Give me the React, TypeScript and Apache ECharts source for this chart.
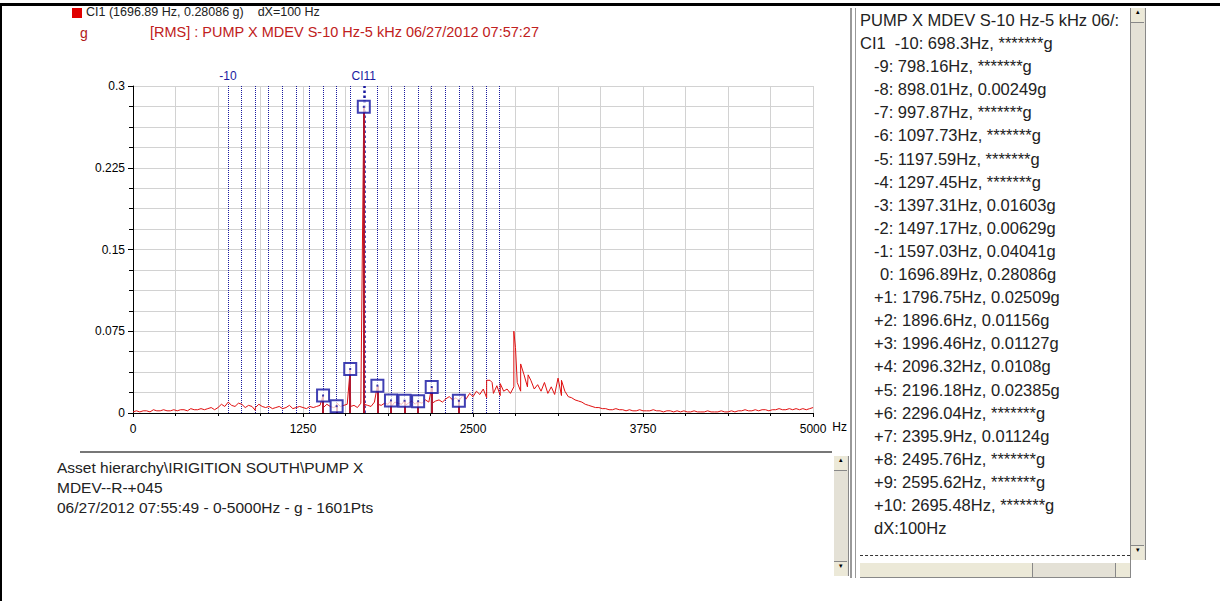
import { useRef, useEffect } from "react"
import * as echarts from "echarts"

// spectrum floor, 0..5000 Hz every 25 Hz, in mg
const floorMg = [
  1, 2, 1, 2, 2, 1, 3, 2, 2, 3, 2, 2, 3, 2, 3, 3, 2, 4, 3, 3, 4, 3, 4, 5, 3,
  5, 8, 6, 10, 7, 6, 9, 8, 5, 7, 6, 5, 8, 6, 5, 6, 4, 5, 6, 4, 5, 7, 4, 5, 6, 5, 4, 6,
  5, 6, 7, 5, 8, 6, 5, 9, 6, 7, 8, 6, 7, 5, 9, 8, 7, 6, 10, 8, 7, 9, 8, 6, 10, 9, 8, 7, 9, 11, 8, 10, 9, 12, 10, 9, 11, 12, 10, 13,
  15, 12, 14, 11, 16, 13, 18, 15, 20, 17, 22, 14, 30, 18, 25, 16, 20, 22, 18, 24, 28, 20, 35, 24, 30, 22, 26, 20, 28, 18, 24, 17, 32, 16, 20, 15, 14, 12, 11, 10,
  8, 7, 6, 5, 5, 4, 4, 3, 3, 4, 3, 3, 2, 3, 2, 2, 3, 2, 2, 2, 3, 2, 2, 1, 2, 2, 1, 2,
  1, 2, 1, 1, 2, 1, 1, 1, 2, 1, 1, 1, 2, 1, 1, 2, 1, 2, 2, 3, 2, 2, 3, 2, 3, 3, 2, 3, 3, 4, 3, 3, 4, 3, 4, 3, 4, 3, 4, 5,
]
const floorStep = 25

// isolated spectral peaks [Hz, g]
const peaks: [number, number][] = [
  [2530, 0.02], [2600, 0.03], [2640, 0.028], [2700, 0.027], [2800, 0.075],
  [2812, 0.06], [2850, 0.045], [2905, 0.035], [3150, 0.03],
]

// harmonic cursor: label, frequency, value (null = *******)
const harmLabels = ["-10", "-9", "-8", "-7", "-6", "-5", "-4", "-3", "-2", "-1", "0",
  "+1", "+2", "+3", "+4", "+5", "+6", "+7", "+8", "+9", "+10"]
const harmFreqs = [698.3, 798.16, 898.01, 997.87, 1097.73, 1197.59, 1297.45, 1397.31,
  1497.17, 1597.03, 1696.89, 1796.75, 1896.6, 1996.46, 2096.32, 2196.18, 2296.04,
  2395.9, 2495.76, 2595.62, 2695.48]
const harmValues: (number | null)[] = [null, null, 0.00249, null, null, null, null,
  0.01603, 0.00629, 0.04041, 0.28086, 0.02509, 0.01156, 0.01127, 0.0108, 0.02385,
  null, 0.01124, null, null, null]

const yTicks = [0, 0.075, 0.15, 0.225, 0.3]
const xTicks = [0, 1250, 2500, 3750, 5000]

const F = "'Liberation Sans', Arial, sans-serif"

function Chart() {
  const ref = useRef<HTMLDivElement>(null)
  useEffect(() => {
    if (!ref.current) return
    const chart = echarts.init(ref.current, null, { renderer: "svg" })

    const pts: [number, number][] = floorMg.map((v, i) => [i * floorStep, v / 1000])
    peaks.forEach((p) => pts.push(p))
    harmFreqs.forEach((f, i) => {
      const v = harmValues[i]
      if (v != null) pts.push([f, v])
    })
    pts.sort((a, b) => a[0] - b[0])

    const cursorLines = harmFreqs.map((f, i) => ({
      xAxis: f,
      lineStyle: {
        color: "#1a1aa0",
        type: "dotted" as const,
        width: i === 10 ? 2.5 : 1,
      },
      label: {
        show: i === 0 || i === 10,
        formatter: i === 0 ? "-10" : "CI11",
        position: "end" as const,
        color: "#1a1aa0",
        fontSize: 12,
        fontFamily: F,
        distance: 4,
      },
    }))

    // the analyser only boxes the harmonics from -3 to +7
    const marks = harmFreqs
      .map((f, i) => [f, harmValues[i], i])
      .filter((d) => d[1] != null && (d[2] as number) >= 7)
      .map((d) => [d[0], d[1]])

    const hidden = { axisLine: { show: false }, axisTick: { show: false }, axisLabel: { show: false } }

    chart.setOption({
      animation: false,
      grid: { left: 133, right: 35, top: 86, bottom: 39 },
      xAxis: [
        {
          type: "value", min: 0, max: 5000, interval: 312.5, ...hidden,
          splitLine: { show: true, lineStyle: { color: "#d2d2d2" } },
        },
        {
          type: "value", min: 0, max: 5000, interval: 1250, position: "bottom",
          axisLine: { onZero: false, lineStyle: { color: "#000" } },
          axisTick: { length: 4, lineStyle: { color: "#000" } },
          minorTick: { show: true, splitNumber: 4, length: 3, lineStyle: { color: "#000" } },
          splitLine: { show: false },
          axisLabel: { color: "#000", fontSize: 12, fontFamily: F, margin: 10, customValues: xTicks, formatter: (v: number) => String(v) },
          name: "Hz", nameGap: 6, nameTextStyle: { fontSize: 12, fontFamily: F, color: "#000", verticalAlign: "top", padding: [8, 0, 0, 0] },
        },
      ],
      yAxis: [
        {
          type: "value", min: 0, max: 0.3, interval: 0.01875, ...hidden,
          splitLine: { show: true, lineStyle: { color: "#d2d2d2" } },
        },
        {
          type: "value", min: 0, max: 0.3, interval: 0.075, position: "left",
          axisLine: { show: true, onZero: false, lineStyle: { color: "#000" } },
          axisTick: { show: true, length: 5, lineStyle: { color: "#000" } },
          minorTick: { show: true, splitNumber: 4, length: 4, lineStyle: { color: "#000" } },
          splitLine: { show: false },
          axisLabel: { color: "#000", fontSize: 12, fontFamily: F, margin: 8, customValues: yTicks, formatter: (v: number) => String(v) },
        },
      ],
      series: [
        {
          type: "line", data: pts, symbol: "none", z: 3,
          lineStyle: { color: "#e01010", width: 1 },
          markLine: {
            symbol: "none", silent: true, z: 2,
            data: cursorLines,
          },
        },
        {
          type: "line", z: 4, symbol: "none", data: [],
          markLine: {
            symbol: "none", silent: true,
            lineStyle: { color: "#b01830", width: 2, type: "solid" },
            label: { show: false },
            data: marks.map((d) => [
              { coord: [d[0], 0] },
              { coord: [d[0], d[1]] },
            ]),
          },
        },
        {
          type: "scatter", z: 5, data: marks, symbol: "rect", symbolSize: 12,
          itemStyle: { color: "rgba(255,255,255,0.9)", borderColor: "#1010a0", borderWidth: 2 },
        },
        {
          type: "scatter", z: 6, data: marks, symbol: "rect", symbolSize: 2,
          itemStyle: { color: "#1010a0" },
        },
      ],
    })
    return () => chart.dispose()
  }, [])
  return <div ref={ref} style={{ position: "absolute", left: 0, top: 0, width: 850, height: 452 }} />
}

const vScroll = (top: number, height: number, left: number) => (
  <div style={{ position: "absolute", left, top, width: 14, height, background: "#e4e1d6", borderLeft: "1px solid #fff", borderRight: "1px solid #888" }}>
    <div style={{ position: "absolute", left: 0, top: 0, width: 13, height: 14, background: "#ece9d8", borderBottom: "1px solid #888", fontSize: 7, textAlign: "center" }}>▴</div>
    <div style={{ position: "absolute", left: 0, bottom: 0, width: 13, height: 14, background: "#ece9d8", borderTop: "1px solid #888", fontSize: 7, textAlign: "center" }}>▾</div>
  </div>
)

export default function App() {
  const rows = harmLabels.map((l, i) => {
    const v = harmValues[i]
    return `${l}: ${harmFreqs[i]}Hz, ${v == null ? "*******" : v}g`
  })
  return (
    <div style={{ position: "fixed", inset: 0, background: "#fff", fontFamily: F, overflow: "hidden" }}>
      <div style={{ position: "absolute", left: 0, top: 3, width: 1220, height: 3, background: "#000" }} />
      <div style={{ position: "absolute", left: 0, top: 3, width: 2, height: 598, background: "#000" }} />
      <Chart />
      <div style={{ position: "absolute", left: 72, top: 8, width: 10, height: 10, background: "#e00000" }} />
      <div style={{ position: "absolute", left: 86, top: 5, fontSize: 12.5, color: "#222", whiteSpace: "pre" }}>CI1 (1696.89 Hz, 0.28086 g)    dX=100 Hz</div>
      <div style={{ position: "absolute", left: 80, top: 25, fontSize: 14, color: "#b01818" }}>g</div>
      <div style={{ position: "absolute", left: 150, top: 24, fontSize: 14.5, color: "#c02020", whiteSpace: "pre" }}>[RMS] : PUMP X MDEV S-10 Hz-5 kHz 06/27/2012 07:57:27</div>
      <div style={{ position: "absolute", left: 80, top: 451, width: 752, height: 2, background: "#777" }} />
      <div style={{ position: "absolute", left: 57, top: 458, fontSize: 15.5, lineHeight: "20px", color: "#222" }}>
        <div>Asset hierarchy\IRIGITION SOUTH\PUMP X</div>
        <div>MDEV--R-+045</div>
        <div>06/27/2012 07:55:49 - 0-5000Hz - g - 1601Pts</div>
      </div>
      {vScroll(456, 120, 833)}
      <div style={{ position: "absolute", left: 850, top: 8, width: 2, height: 570, background: "#999" }} />
      <div style={{ position: "absolute", left: 855, top: 8, width: 1, height: 570, background: "#999" }} />
      <div style={{ position: "absolute", left: 860, top: 9, fontSize: 16.5, lineHeight: "23.1px", color: "#222", whiteSpace: "pre" }}>
        <div>PUMP X MDEV S-10 Hz-5 kHz 06/:</div>
        {rows.map((r, i) => (
          <div key={i} style={{ paddingLeft: i === 0 ? 0 : i === 10 ? 20 : 14 }}>{i === 0 ? "CI1  " + r : r}</div>
        ))}
        <div style={{ paddingLeft: 14 }}>dX:100Hz</div>
      </div>
      <div style={{ position: "absolute", left: 860, top: 555, width: 270, borderTop: "1px dashed #333" }} />
      {vScroll(8, 552, 1130)}
      <div style={{ position: "absolute", left: 860, top: 562, width: 270, height: 14, background: "#e4e1d6", borderTop: "1px solid #fff", borderBottom: "1px solid #888" }}>
        <div style={{ position: "absolute", left: 0, top: 0, width: 14, height: 14, background: "#ece9d8", borderRight: "1px solid #888" }} />
        <div style={{ position: "absolute", left: 14, top: 0, width: 158, height: 14, background: "#ece9d8", borderRight: "1px solid #888" }} />
        <div style={{ position: "absolute", right: 0, top: 0, width: 14, height: 14, background: "#ece9d8", borderLeft: "1px solid #888" }} />
      </div>
      <div style={{ position: "absolute", left: 1130, top: 8, width: 1, height: 570, background: "#888" }} />
    </div>
  )
}
